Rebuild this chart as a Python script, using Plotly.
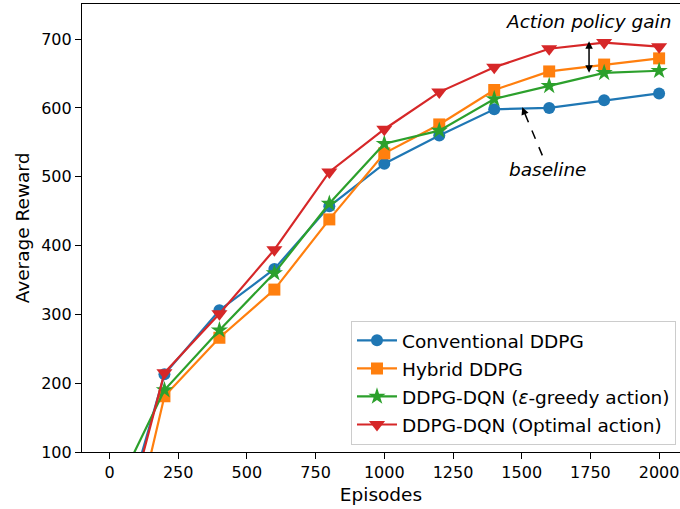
import plotly.graph_objects as go

episodes = [0, 200, 400, 600, 800, 1000, 1200, 1400, 1600, 1800, 2000]
conventional_ddpg = [-66, 213, 306, 366, 457, 519, 560, 598, 600, 611, 621]
hybrid_ddpg = [-160, 181, 266, 336, 438, 534, 576, 626, 653, 663, 672]
ddpg_dqn_greedy = [25, 190, 277, 360, 461, 548, 567, 613, 632, 651, 654]
ddpg_dqn_optimal = [-88, 215, 301, 394, 507, 569, 623, 659, 686, 695, 689]

series_names = ["Conventional DDPG", "Hybrid DDPG",
                "DDPG-DQN (<i>ε</i>-greedy action)", "DDPG-DQN (Optimal action)"]
series_values = [conventional_ddpg, hybrid_ddpg, ddpg_dqn_greedy, ddpg_dqn_optimal]
colors = ["#1f77b4", "#ff7f0e", "#2ca02c", "#d62728"]
symbols = ["circle", "square", "star", "triangle-down"]
sizes = [12, 12, 13, 14]

x_ticks = [0, 250, 500, 750, 1000, 1250, 1500, 1750, 2000]
y_ticks = [100, 200, 300, 400, 500, 600, 700]

FONT = "DejaVu Sans"

fig = go.Figure()
for i, (name, vals) in enumerate(zip(series_names, series_values)):
    fig.add_trace(go.Scatter(
        x=episodes, y=vals, name=name, mode="lines+markers",
        line=dict(color=colors[i], width=2.2),
        marker=dict(symbol=symbols[i], size=sizes[i], color=colors[i],
                    line=dict(width=0)),
        legendgroup=str(i), cliponaxis=True,
    ))

# Action policy gain double arrow
fig.add_annotation(x=1745, y=697, ax=1745, ay=649, xref="x", yref="y",
                   axref="x", ayref="y", showarrow=True, arrowhead=2,
                   arrowside="start+end", arrowwidth=1.5, arrowsize=1,
                   arrowcolor="black", text="")
fig.add_annotation(x=2050, y=726, xref="x", yref="y", showarrow=False,
                   xanchor="right",
                   text="<i>Action policy gain</i>",
                   font=dict(family=FONT, size=18.5, color="black"))

# baseline dashed arrow
fig.add_shape(type="line", x0=1575, y0=531, x1=1505, y1=598, xref="x", yref="y",
              line=dict(color="black", width=1.5, dash="dash"))
fig.add_annotation(x=1502, y=601, ax=1512, ay=591, xref="x", yref="y",
                   axref="x", ayref="y", showarrow=True, arrowhead=2,
                   arrowwidth=1.5, arrowsize=1, arrowcolor="black", text="")
fig.add_annotation(x=1596, y=510, xref="x", yref="y", showarrow=False,
                   text="<i>baseline</i>",
                   font=dict(family=FONT, size=18.5, color="black"))

fig.update_layout(
    width=680, height=509,
    margin=dict(l=82, r=0, t=4, b=57),
    paper_bgcolor="white", plot_bgcolor="white",
    font=dict(family=FONT, size=16, color="black"),
    showlegend=True,
    legend=dict(x=0.9933, y=0.016, xanchor="right", yanchor="bottom",
                bgcolor="rgba(255,255,255,0.85)", bordercolor="#cccccc",
                borderwidth=1, font=dict(family=FONT, size=18.5),
                tracegroupgap=1, itemwidth=40),
    xaxis=dict(range=[-100, 2076], tickvals=x_ticks,
               ticktext=[str(v) for v in x_ticks],
               showgrid=False, zeroline=False, showline=True, linecolor="black",
               linewidth=1.2, mirror=True, ticks="outside", ticklen=6,
               tickwidth=1.2, tickcolor="black",
               title=dict(text="Episodes", font=dict(size=18.5), standoff=6)),
    yaxis=dict(range=[100, 751], tickvals=y_ticks,
               showgrid=False, zeroline=False, showline=True, linecolor="black",
               linewidth=1.2, ticks="outside", ticklen=6, tickwidth=1.2,
               tickcolor="black",
               title=dict(text="Average Reward", font=dict(size=18.5), standoff=6)),
)

fig.write_html("out.html")
